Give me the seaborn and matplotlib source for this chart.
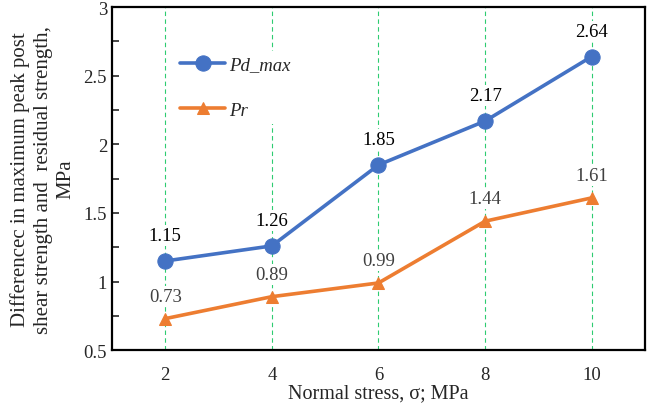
import matplotlib
matplotlib.use("Agg")
import matplotlib.pyplot as plt
import seaborn as sns
import pandas as pd
from matplotlib.ticker import MultipleLocator, FormatStrFormatter

stress = [2, 4, 6, 8, 10]
pd_max = [1.15, 1.26, 1.85, 2.17, 2.64]
pr = [0.73, 0.89, 0.99, 1.44, 1.61]

sns.set_style("white")
plt.rcParams['font.family'] = ['Liberation Serif', 'DejaVu Serif']

df = pd.DataFrame({'stress': stress, 'Pd_max': pd_max, 'Pr': pr})

fig, ax = plt.subplots(figsize=(6.47, 4.06), dpi=100)
fig.subplots_adjust(left=0.173, right=0.997, top=0.98, bottom=0.135)

# vertical dashed guide lines
for x in stress:
    ax.axvline(x, color='#2ecc71', ls=(0, (4, 3)), lw=0.8, zorder=0)

sns.lineplot(data=df, x='stress', y='Pd_max', ax=ax, color='#4472C4', lw=2.6,
             marker='o', markersize=11, markeredgecolor='#4472C4', label='Pd_max', zorder=3)
sns.lineplot(data=df, x='stress', y='Pr', ax=ax, color='#ED7D31', lw=2.6,
             marker='^', markersize=9, markeredgecolor='#ED7D31', label='Pr', zorder=3)

box = dict(facecolor='white', edgecolor='none', pad=1.5)
for x, y in zip(stress, pd_max):
    ax.annotate(f'{y:.2f}', (x, y), xytext=(0, 12), textcoords='offset points',
                ha='center', va='bottom', fontsize=13.5, color='black', bbox=box, zorder=2)
for x, y in zip(stress, pr):
    ax.annotate(f'{y:.2f}', (x, y), xytext=(0, 10), textcoords='offset points',
                ha='center', va='bottom', fontsize=13.5, color='#404040', bbox=box, zorder=2)

ax.set_xlim(1, 11)
ax.set_ylim(0.5, 3)
ax.set_xticks(stress)
ax.yaxis.set_major_locator(MultipleLocator(0.5))
ax.yaxis.set_minor_locator(MultipleLocator(0.25))
ax.yaxis.set_major_formatter(FormatStrFormatter('%g'))
ax.tick_params(axis='y', which='both', direction='in', left=True, length=5, width=1.2, labelsize=13.5)
ax.tick_params(axis='x', bottom=False, labelsize=13.5, pad=8)

for s in ax.spines.values():
    s.set_color('black')
    s.set_linewidth(1.6)

ax.set_xlabel('Normal stress, σ; MPa', fontsize=14.5, labelpad=0)
ax.set_ylabel('Differencec in maximum peak post\nshear strength and  residual strength,\nMPa',
              fontsize=15, labelpad=6, linespacing=1.25)

leg = ax.legend(loc='upper left', bbox_to_anchor=(0.1, 0.9), frameon=True, fontsize=13.5,
                handlelength=2.4, labelspacing=1.5, borderpad=0.3, handletextpad=0.2)
leg.get_frame().set_edgecolor('none')
leg.get_frame().set_alpha(1)
for t in leg.get_texts():
    t.set_fontstyle('italic')

fig.savefig('out.png', dpi=100)
